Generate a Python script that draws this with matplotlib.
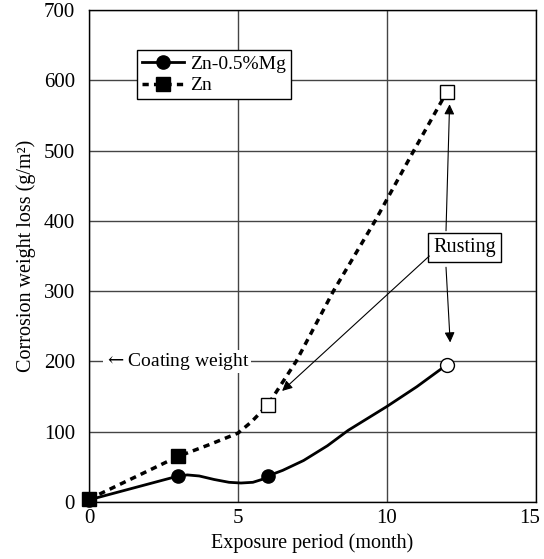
import matplotlib
matplotlib.use("Agg")
import matplotlib.pyplot as plt
import matplotlib.transforms as mtransforms
from matplotlib.lines import Line2D

plt.rcParams['font.family'] = ['Liberation Serif', 'DejaVu Serif']
plt.rcParams['mathtext.fontset'] = 'dejavuserif'

# measured points
months = [0, 3, 6, 12]
znmg_loss = [3, 37, 37, 195]
zn_loss = [4, 65, 138, 583]

# smoothed curves
znmg_curve_x = [0, 3, 3.3, 3.7, 4.2, 4.7, 5.1, 5.5, 5.8, 6, 6.5, 7.2, 8.0, 8.7, 10.0, 11.0, 12]
znmg_curve_y = [3, 37, 38.5, 37, 32, 28, 27, 28, 32, 37, 45, 59, 80, 102, 136, 164, 195]
zn_curve_x = [0, 3, 4.0, 5.0, 5.45, 6, 6.95, 8.2, 9.6, 10.9, 12]
zn_curve_y = [4, 65, 81, 98, 114, 138, 200, 300, 400, 500, 583]

fig = plt.figure(figsize=(5.44, 5.59), dpi=100)
ax = fig.add_axes([0.1636, 0.102, 0.8217, 0.880])

ax.plot(znmg_curve_x, znmg_curve_y, color='black', lw=2, zorder=3)
ax.plot(zn_curve_x, zn_curve_y, color='black', lw=2.5, ls=(0, (1.8, 1.5)), zorder=3)

# filled markers before rusting, open after
ax.plot(months[:3], znmg_loss[:3], 'o', color='black', ms=9.5, zorder=4, ls='none')
ax.plot(months[3:], znmg_loss[3:], 'o', mfc='white', mec='black', mew=1, ms=10, zorder=4, ls='none')
ax.plot(months[:2], zn_loss[:2], 's', color='black', ms=9.5, zorder=5, ls='none')
ax.plot(months[2:], zn_loss[2:], 's', mfc='white', mec='black', mew=1, ms=10, zorder=5, ls='none')

ax.set_xlim(0, 15)
ax.set_ylim(0, 700)
ax.set_xticks([0, 5, 10, 15])
ax.set_yticks(range(0, 701, 100))
ax.tick_params(length=0, labelsize=15)
ax.tick_params(axis='x', pad=5)
ax.tick_params(axis='y', pad=10)
ax.grid(True, color='#444444', lw=1)
ax.set_axisbelow(True)
for s in ax.spines.values():
    s.set_color('black')
    s.set_linewidth(1)
for ln in ax.lines:
    ln.set_clip_on(False)

# keep the last x label inside the figure
fig.canvas.draw()
last = ax.get_xticklabels()[-1]
last.set_transform(last.get_transform() + mtransforms.ScaledTranslation(-6 / 100, 0, fig.dpi_scale_trans))

ax.set_xlabel('Exposure period (month)', fontsize=14.5, labelpad=4)
ax.set_ylabel('Corrosion weight loss (g/m²)', fontsize=14.5, labelpad=6)

ax.text(0.5, 200, r'$\leftarrow$Coating weight', fontsize=14, va='center', ha='left',
        bbox=dict(facecolor='white', edgecolor='none', pad=1), zorder=2)

ax.text(12.6, 362, 'Rusting', fontsize=14.5, ha='center', va='center',
        bbox=dict(facecolor='white', edgecolor='black', lw=1, boxstyle='square,pad=0.25'), zorder=6)

arr = dict(arrowstyle='-|>', color='black', lw=0.8, mutation_scale=15, shrinkA=0, shrinkB=0)
ax.annotate('', xy=(12.1, 566), xytext=(11.98, 386), arrowprops=arr, zorder=6)
ax.annotate('', xy=(12.12, 227), xytext=(11.98, 334), arrowprops=arr, zorder=6)
ax.annotate('', xy=(6.48, 158), xytext=(11.42, 350), arrowprops=arr, zorder=6)

handles = [
    Line2D([], [], color='black', lw=2, marker='o', ms=9.5),
    Line2D([], [], color='black', lw=2.5, ls=(0, (1.8, 1.5)), marker='s', ms=9.5),
]
leg = ax.legend(handles, ['Zn-0.5%Mg', 'Zn'], loc='upper left',
                bbox_to_anchor=(0.107, 0.918), fontsize=14, fancybox=False,
                framealpha=1, edgecolor='black', handlelength=2.2,
                handletextpad=0.3, borderpad=0.25, labelspacing=0.2, borderaxespad=0)
leg.get_frame().set_linewidth(1)

fig.savefig('out.png', dpi=100)
